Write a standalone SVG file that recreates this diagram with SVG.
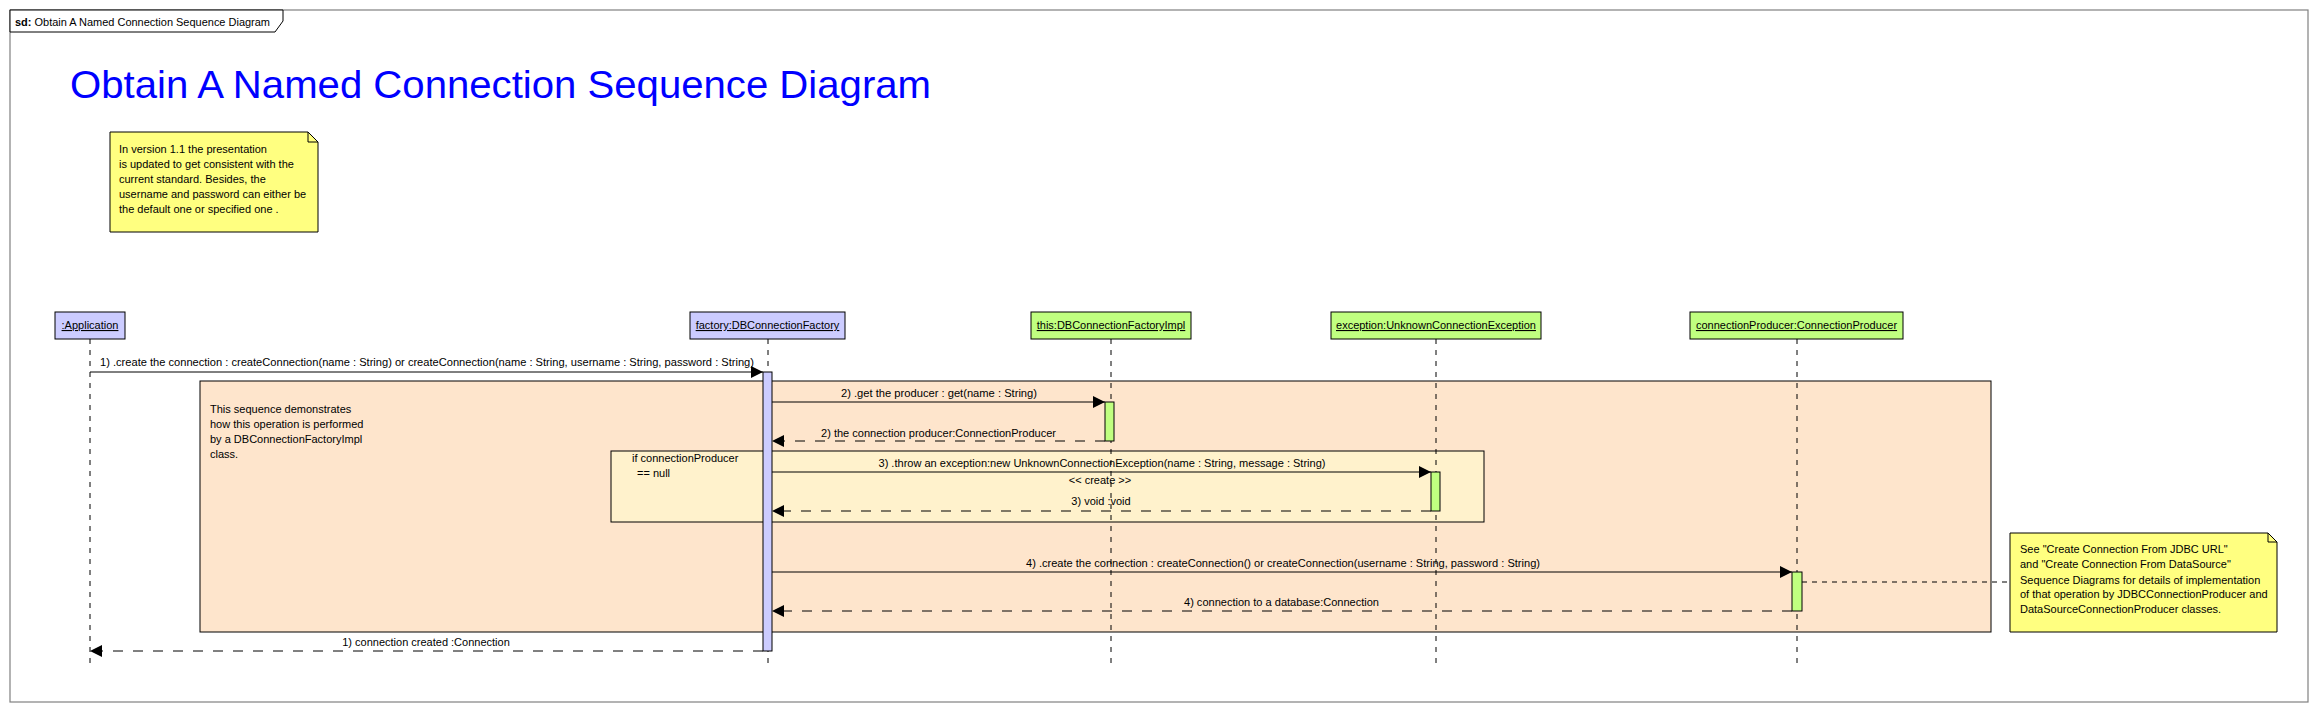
<svg xmlns="http://www.w3.org/2000/svg" width="2318" height="712" viewBox="0 0 2318 712">
<style>
text{font-family:"Liberation Sans",Arial,sans-serif;font-size:11px;fill:#000}
.title{font-size:39px;fill:#0000ff}
.lbox{fill:#ccccff;stroke:#000;stroke-width:1}
.gbox{fill:#c0ff80;stroke:#000;stroke-width:1}
.life{stroke:#000;stroke-width:1;stroke-dasharray:5,6;fill:none}
.msg{stroke:#000;stroke-width:1;fill:none;marker-end:url(#ah)}
.ret{stroke:#000;stroke-width:1;fill:none;stroke-dasharray:10,10;marker-end:url(#ah)}
.note{fill:#ffff80;stroke:#000;stroke-width:1}
.u{text-decoration:underline}
</style>
<defs>
<marker id="ah" viewBox="0 0 12 12" refX="12" refY="6" markerWidth="12" markerHeight="12" markerUnits="userSpaceOnUse" orient="auto"><path d="M0,0 L12,6 L0,12 Z" fill="#000"/></marker>
</defs>
<rect width="2318" height="712" fill="#fff"/>
<g id="frame">
<rect x="10" y="10" width="2298" height="692" fill="none" stroke="#808080" stroke-width="1.2"/>
<path d="M10,10 H283 V21 L275,32 H10 Z" fill="#fff" stroke="#000" stroke-width="1"/>
<text x="15" y="26" textLength="255" lengthAdjust="spacingAndGlyphs"><tspan font-weight="bold">sd:</tspan> Obtain A Named Connection Sequence Diagram</text>
<text class="title" x="70" y="98" textLength="861" lengthAdjust="spacingAndGlyphs">Obtain A Named Connection Sequence Diagram</text>
</g>
<g id="note-version">
<path class="note" d="M110,132 H308 L318,142 V232 H110 Z"/>
<path d="M308,132 V142 H318" fill="none" stroke="#000" stroke-width="1"/>
<text x="119" y="153">In version 1.1 the presentation</text>
<text x="119" y="168">is updated to get consistent with the</text>
<text x="119" y="183">current standard. Besides, the</text>
<text x="119" y="198">username and password can either be</text>
<text x="119" y="213">the default one or specified one .</text>
</g>
<g id="fragment-impl">
<rect x="200" y="381" width="1791" height="251" fill="#fee5cc" stroke="#000" stroke-width="1"/>
<text x="210" y="413">This sequence demonstrates</text>
<text x="210" y="428">how this operation is performed</text>
<text x="210" y="443">by a DBConnectionFactoryImpl</text>
<text x="210" y="458">class.</text>
</g>
<g id="fragment-if">
<rect x="611" y="451" width="873" height="71" fill="#fff2cc" stroke="#000" stroke-width="1"/>
<text x="632" y="462">if connectionProducer</text>
<text x="637" y="477">== null</text>
</g>
<g id="note-producer">
<path class="note" d="M2010,533 H2268 L2277,542 V632 H2010 Z"/>
<path d="M2268,533 V542 H2277" fill="none" stroke="#000" stroke-width="1"/>
<text x="2020" y="553">See "Create Connection From JDBC URL"</text>
<text x="2020" y="568">and "Create Connection From DataSource"</text>
<text x="2020" y="584">Sequence Diagrams for details of implementation</text>
<text x="2020" y="598">of that operation by JDBCConnectionProducer and</text>
<text x="2020" y="613">DataSourceConnectionProducer classes.</text>
</g>
<g id="lifeline-application">
<rect class="lbox" x="55" y="312" width="70" height="27"/>
<text class="u" x="90" y="329" text-anchor="middle">:Application</text>
<line class="life" x1="90" y1="339" x2="90" y2="667"/>
</g>
<g id="lifeline-factory">
<rect class="lbox" x="690" y="312" width="155" height="27"/>
<text class="u" x="767.5" y="329" text-anchor="middle">factory:DBConnectionFactory</text>
<line class="life" x1="768" y1="339" x2="768" y2="667"/>
<rect class="lbox" x="763" y="372" width="9" height="279"/>
</g>
<g id="lifeline-impl">
<rect class="gbox" x="1031" y="312" width="160" height="27"/>
<text class="u" x="1111" y="329" text-anchor="middle">this:DBConnectionFactoryImpl</text>
<line class="life" x1="1111" y1="339" x2="1111" y2="667"/>
<rect class="gbox" x="1105" y="402" width="9" height="39"/>
</g>
<g id="lifeline-exception">
<rect class="gbox" x="1331" y="312" width="210" height="27"/>
<text class="u" x="1436" y="329" text-anchor="middle">exception:UnknownConnectionException</text>
<line class="life" x1="1436" y1="339" x2="1436" y2="667"/>
<rect class="gbox" x="1431" y="472" width="9" height="39"/>
</g>
<g id="lifeline-producer">
<rect class="gbox" x="1690" y="312" width="213" height="27"/>
<text class="u" x="1796.5" y="329" text-anchor="middle">connectionProducer:ConnectionProducer</text>
<line class="life" x1="1797" y1="339" x2="1797" y2="667"/>
<rect class="gbox" x="1792" y="572" width="10" height="39"/>
</g>
<g id="connectors">
<line class="msg" x1="90" y1="372" x2="763" y2="372"/>
<text x="427" y="366" text-anchor="middle" textLength="654" lengthAdjust="spacingAndGlyphs">1) .create the connection : createConnection(name : String) or createConnection(name : String, username : String, password : String)</text>
<line class="msg" x1="772" y1="402" x2="1105" y2="402"/>
<text x="939" y="397" text-anchor="middle" textLength="196" lengthAdjust="spacingAndGlyphs">2) .get the producer : get(name : String)</text>
<line class="ret" x1="1105" y1="441" x2="772" y2="441"/>
<text x="938.5" y="437" text-anchor="middle" textLength="235" lengthAdjust="spacingAndGlyphs">2) the connection producer:ConnectionProducer</text>
<line class="msg" x1="772" y1="472" x2="1431" y2="472"/>
<text x="1102" y="467" text-anchor="middle" textLength="447" lengthAdjust="spacingAndGlyphs">3) .throw an exception:new UnknownConnectionException(name : String, message : String)</text>
<text x="1100" y="484" text-anchor="middle">&lt;&lt; create &gt;&gt;</text>
<line class="ret" x1="1431" y1="511" x2="772" y2="511"/>
<text x="1101" y="505" text-anchor="middle">3) void :void</text>
<line class="msg" x1="772" y1="572" x2="1792" y2="572"/>
<text x="1283" y="567" text-anchor="middle" textLength="514" lengthAdjust="spacingAndGlyphs">4) .create the connection : createConnection() or createConnection(username : String, password : String)</text>
<line class="ret" x1="1792" y1="611" x2="772" y2="611"/>
<text x="1281.5" y="606" text-anchor="middle" textLength="195" lengthAdjust="spacingAndGlyphs">4) connection to a database:Connection</text>
<line class="ret" x1="763" y1="651" x2="90" y2="651"/>
<text x="426" y="646" text-anchor="middle">1) connection created :Connection</text>
<line x1="1802" y1="582" x2="2010" y2="582" stroke="#000" stroke-width="1" stroke-dasharray="5,5"/>
</g>
</svg>
